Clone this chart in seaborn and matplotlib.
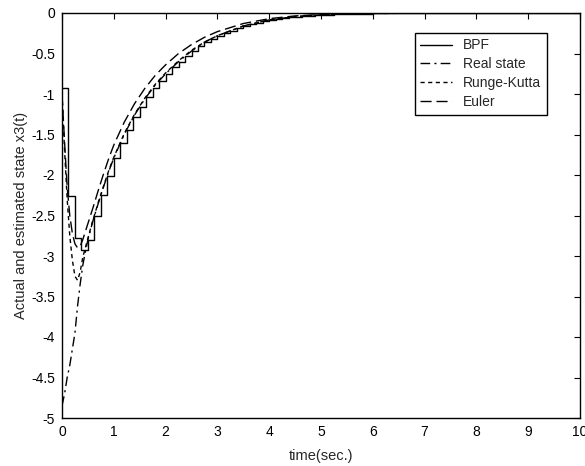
import numpy as np
import pandas as pd
import matplotlib
matplotlib.use("Agg")
import matplotlib.pyplot as plt
import seaborn as sns

# ---- data ----
t_smooth = [0, 0.05, 0.1, 0.15, 0.2, 0.25, 0.3, 0.35, 0.4, 0.45, 0.5, 0.6, 0.7, 0.8, 0.9,
            1.0, 1.2, 1.4, 1.6, 1.8, 2.0, 2.25, 2.5, 2.75, 3.0, 3.5, 4.0, 4.5, 5.0, 5.5,
            6.0, 7.0, 8.0, 9.0, 10.0]
real_state = [-4.85, -4.70, -4.50, -4.35, -4.15, -3.95, -3.62, -3.35, -3.12, -2.95, -2.80,
              -2.56, -2.35, -2.15, -1.96, -1.79, -1.50, -1.26, -1.06, -0.89, -0.75, -0.60,
              -0.47, -0.36, -0.28, -0.16, -0.085, -0.045, -0.022, -0.012, -0.006, -0.002,
              -0.001, 0.0, 0.0]
runge_kutta = [-1.0, -1.70, -2.30, -2.75, -3.05, -3.25, -3.30, -3.20, -3.02, -2.90, -2.78,
               -2.55, -2.34, -2.14, -1.95, -1.78, -1.49, -1.25, -1.05, -0.88, -0.74, -0.59,
               -0.46, -0.36, -0.28, -0.16, -0.085, -0.045, -0.022, -0.012, -0.006, -0.002,
               -0.001, 0.0, 0.0]
euler = [-1.0, -1.60, -2.15, -2.50, -2.72, -2.85, -2.90, -2.88, -2.80, -2.70, -2.60,
         -2.40, -2.19, -1.99, -1.80, -1.63, -1.35, -1.12, -0.93, -0.77, -0.64, -0.50,
         -0.39, -0.30, -0.23, -0.13, -0.07, -0.036, -0.018, -0.009, -0.004, -0.001,
         0.0, 0.0, 0.0]

bpf_h = 0.125
bpf_vals = [-0.93, -2.26, -2.78, -2.92, -2.80, -2.51, -2.25, -2.01, -1.79, -1.61,
            -1.44, -1.29, -1.16, -1.04, -0.93, -0.84, -0.75, -0.67, -0.60, -0.53,
            -0.47, -0.41, -0.36, -0.32, -0.28, -0.25, -0.22, -0.19, -0.16, -0.14,
            -0.12, -0.10, -0.085, -0.074, -0.064, -0.054, -0.045, -0.039, -0.033, -0.027,
            -0.022, -0.019, -0.017, -0.014, -0.012, -0.010, -0.009, -0.007, -0.006, -0.005,
            -0.005, -0.004, -0.004, -0.003, -0.003, -0.003, -0.002, -0.002, -0.002, -0.002,
            -0.002, -0.002, -0.002, -0.002, -0.001, -0.001, -0.001, -0.001, -0.001, -0.001,
            -0.001, -0.001, 0.0, 0.0, 0.0, 0.0, 0.0, 0.0, 0.0, 0.0]
bpf_t = [i * bpf_h for i in range(len(bpf_vals) + 1)]
bpf_y = bpf_vals + [bpf_vals[-1]]

x_ticks = [0, 1, 2, 3, 4, 5, 6, 7, 8, 9, 10]
y_ticks = [-5, -4.5, -4, -3.5, -3, -2.5, -2, -1.5, -1, -0.5, 0]
y_tick_labels = ["-5", "-4.5", "-4", "-3.5", "-3", "-2.5", "-2", "-1.5", "-1", "-0.5", "0"]

# ---- plotting ----
sns.set_style("white")
plt.rcParams["font.family"] = ["Liberation Sans", "DejaVu Sans"]

fig = plt.figure(figsize=(5.85, 4.66), dpi=100)
ax = fig.add_axes([62 / 585, 1 - 418 / 466, (580 - 62) / 585, (418 - 13) / 466])

df_bpf = pd.DataFrame({"t": bpf_t, "y": bpf_y})
df_s = pd.DataFrame({"t": t_smooth, "real": real_state, "rk": runge_kutta, "eu": euler})

lw = 1.0
sns.lineplot(data=df_bpf, x="t", y="y", ax=ax, color="black", lw=lw,
             drawstyle="steps-post", estimator=None, sort=False, label="BPF")
sns.lineplot(data=df_s, x="t", y="real", ax=ax, color="black", lw=lw,
             estimator=None, sort=False, label="Real state", dashes=False)
sns.lineplot(data=df_s, x="t", y="rk", ax=ax, color="black", lw=lw,
             estimator=None, sort=False, label="Runge-Kutta", dashes=False)
sns.lineplot(data=df_s, x="t", y="eu", ax=ax, color="black", lw=lw,
             estimator=None, sort=False, label="Euler", dashes=False)

lines = ax.get_lines()
lines[1].set_dashes([7, 3, 1.5, 3])
lines[2].set_dashes([3, 2.5])
lines[3].set_dashes([8, 3.5])

ax.set_xlim(0, 10)
ax.set_ylim(-5, 0)
ax.set_xticks(x_ticks)
ax.set_xticklabels([str(v) for v in x_ticks])
ax.set_yticks(y_ticks)
ax.set_yticklabels(y_tick_labels)
ax.tick_params(direction="in", top=True, right=True, length=4, width=0.8,
               labelsize=10, colors="black", pad=5)
for s in ax.spines.values():
    s.set_color("black")
    s.set_linewidth(1.0)

ax.set_xlabel("time(sec.)", fontsize=10.5, labelpad=7)
ax.set_ylabel("Actual and estimated state x3(t)", fontsize=10.5, labelpad=2)

leg = ax.legend(loc="upper right", bbox_to_anchor=(0.936, 0.951), fontsize=10,
                frameon=True, fancybox=False, edgecolor="black", framealpha=1,
                handlelength=2.3, handletextpad=0.8, labelspacing=0.35,
                borderpad=0.4, borderaxespad=0)
leg.get_frame().set_linewidth(1.0)

fig.savefig("out.png", dpi=100)
